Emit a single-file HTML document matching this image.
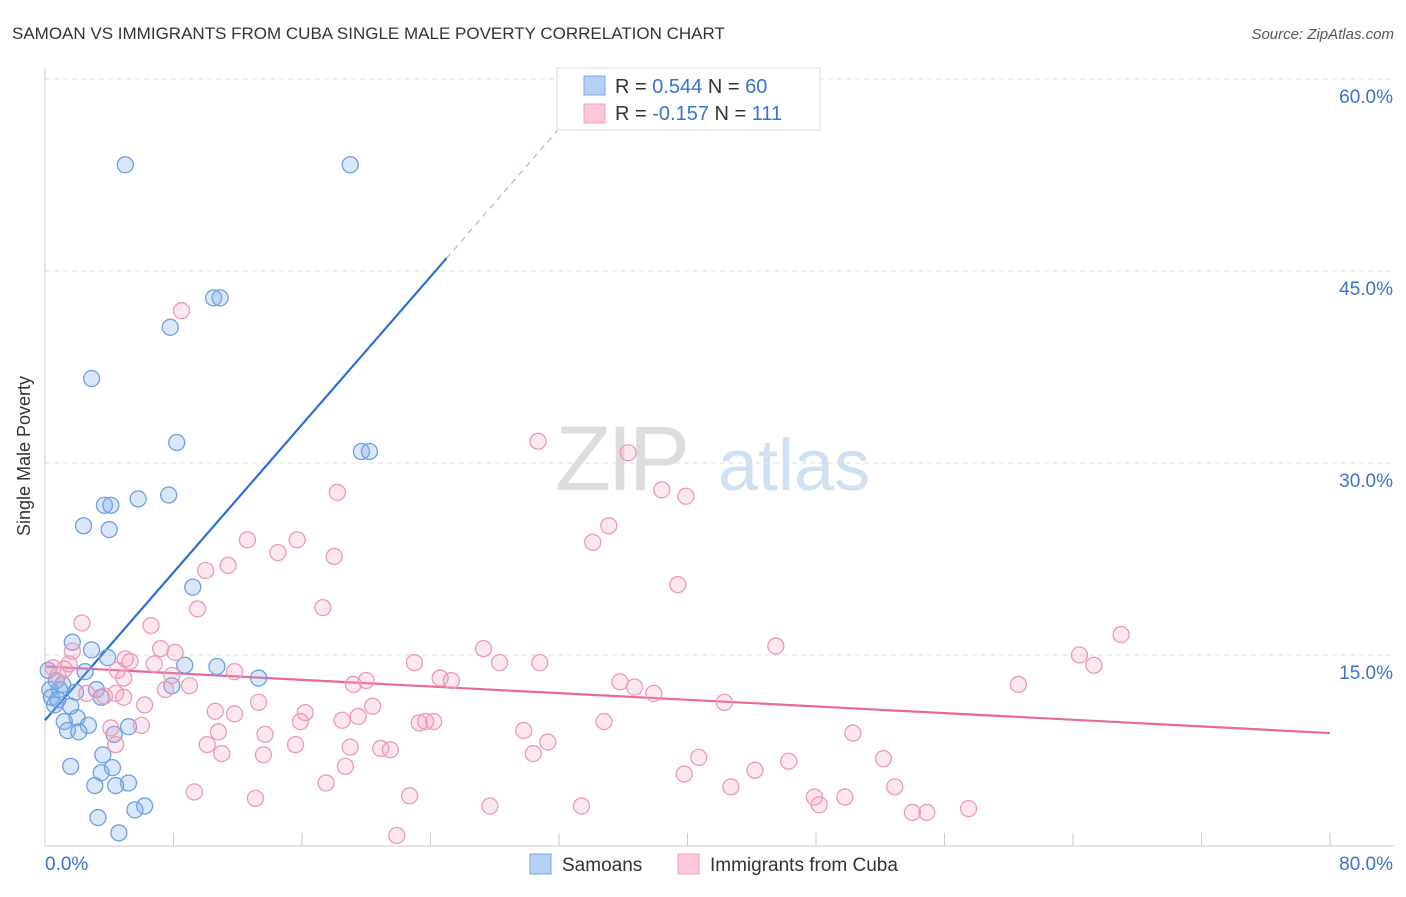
<!DOCTYPE html>
<html><head><meta charset="utf-8"><style>
body{margin:0;background:#fff;font-family:"Liberation Sans",sans-serif;}
svg text{font-family:"Liberation Sans",sans-serif;}
</style></head><body>
<svg id="chart" width="1406" height="892">
<text x="12" y="39" font-size="17" fill="#333">SAMOAN VS IMMIGRANTS FROM CUBA SINGLE MALE POVERTY CORRELATION CHART</text>
<text x="1394" y="39" font-size="15" fill="#555" font-style="italic" text-anchor="end">Source: ZipAtlas.com</text>
<text x="30" y="456" font-size="18" fill="#333" text-anchor="middle" transform="rotate(-90 30 456)">Single Male Poverty</text>
<g><text x="555" y="490" font-size="92" fill="#ddd" font-family="Liberation Serif" letter-spacing="-4">ZIP</text><text x="718" y="490" font-size="72" fill="#cfe0f3">atlas</text></g>
<g id="grid"></g><g id="axes"></g><g id="lines"></g><g id="pts"></g>
<g>
<rect x="557" y="68" width="263" height="62" fill="#fff" stroke="#ddd"/>
<rect x="584" y="76" width="21" height="19" fill="#b5d0f5" stroke="#7aa8e8"/>
<rect x="584" y="104" width="21" height="19" fill="#fcc8d8" stroke="#f0a0bb"/>
<text x="615" y="93" font-size="20" fill="#333">R = <tspan fill="#3a72d0">0.544</tspan>    N = <tspan fill="#3a72d0">60</tspan></text>
<text x="615" y="120" font-size="20" fill="#333">R = <tspan fill="#3a72d0">-0.157</tspan>   N = <tspan fill="#3a72d0">111</tspan></text>
</g>
<g>
<rect x="530" y="854" width="21" height="20" fill="#b5d0f5" stroke="#7aa8e8"/>
<text x="562" y="871" font-size="19" fill="#333">Samoans</text>
<rect x="678" y="854" width="21" height="20" fill="#fcc8d8" stroke="#f0a0bb"/>
<text x="710" y="871" font-size="19" fill="#333">Immigrants from Cuba</text>
</g>
</svg>
<script>
const yTicks=[15,30,45,60];
const xTickCount=10;
const blueX=[5.0,19.0,10.5,10.9,7.8,2.9,8.2,19.7,20.2,7.7,5.8,3.7,4.1,2.4,4.0,9.2,1.7,2.9,3.9,8.7,10.7,0.2,2.5,13.3,0.7,1.1,7.9,0.3,1.9,3.2,0.4,3.5,1.6,0.6,2.0,1.2,2.7,5.2,1.4,2.1,4.3,3.6,1.6,4.2,3.5,5.2,4.4,3.1,6.2,5.6,3.3,4.6,0.9,0.8];
const blueY=[53.3,53.3,42.9,42.9,40.6,36.6,31.6,30.9,30.9,27.5,27.2,26.7,26.7,25.1,24.8,20.3,16.0,15.4,14.8,14.2,14.1,13.8,13.7,13.2,13.0,12.7,12.6,12.3,12.1,12.3,11.7,11.7,11.0,11.1,10.1,9.8,9.5,9.4,9.1,9.0,8.8,7.2,6.3,6.2,5.8,5.0,4.8,4.8,3.2,2.9,2.3,1.1,12.3,11.5];
const pinkX=[8.5,30.7,36.3,38.4,39.9,18.2,35.1,34.1,12.6,15.7,14.5,18.0,11.4,10.0,39.4,17.3,9.5,2.3,6.6,67.0,45.5,27.3,7.2,8.1,1.7,64.4,65.3,5.0,5.3,30.8,28.3,23.0,6.8,1.5,0.5,4.5,11.8,7.9,0.8,4.9,20.0,19.2,24.6,25.3,35.8,36.7,60.6,9.0,7.5,2.6,37.9,3.7,4.9,4.4,13.3,42.3,20.4,6.2,10.6,11.8,16.2,19.5,18.5,15.9,34.8,23.7,24.2,23.3,6.0,4.1,10.8,13.7,29.8,50.3,31.3,4.4,10.1,15.6,19.0,20.9,21.5,11.0,13.6,30.4,40.7,52.2,46.3,18.7,39.8,44.2,17.5,42.7,52.9,9.3,22.7,47.9,49.8,13.1,48.2,27.7,33.4,57.5,54.0,54.9,21.9,1.2];
const pinkY=[41.9,31.7,30.8,27.9,27.4,27.7,25.1,23.8,24.0,24.0,23.0,22.7,22.0,21.6,20.5,18.7,18.6,17.5,17.3,16.6,15.7,15.5,15.5,15.2,15.3,15.0,14.2,14.7,14.5,14.4,14.4,14.4,14.3,14.3,14.0,13.8,13.7,13.4,13.4,13.2,13.0,12.7,13.2,13.0,12.9,12.5,12.7,12.6,12.3,12.0,12.0,11.8,11.7,12.0,11.3,11.3,11.0,11.1,10.6,10.4,10.5,10.2,9.9,9.8,9.8,9.8,9.8,9.7,9.5,9.3,9.0,8.8,9.1,8.9,8.2,8.0,8.0,8.0,7.8,7.7,7.6,7.3,7.2,7.3,7.0,6.9,6.7,6.3,5.7,6.0,5.0,4.7,4.7,4.3,4.0,3.9,3.9,3.8,3.3,3.2,3.2,3.0,2.7,2.7,0.9,13.9];
const blueTrendX=[0,25.0,33.3];
const blueTrendY=[9.9,46.0,58.0];
const pinkTrendX=[0,80];
const pinkTrendY=[14.1,8.9];
const NS='http://www.w3.org/2000/svg';
const sx=v=>45+v/80*1285, sy=v=>847-v/60*768;
function mk(tag,attrs,parent){const e=document.createElementNS(NS,tag);for(const k in attrs)e.setAttribute(k,attrs[k]);document.getElementById(parent).appendChild(e);return e;}
yTicks.forEach(t=>{
 const l=mk('line',{x1:45,x2:1394,y1:sy(t),y2:sy(t),stroke:'#ddd','stroke-dasharray':'5,4'},'grid');
 
 
 const tx=mk('text',{x:1393,y:sy(t)+24,'font-size':19,fill:'#3a72d0','text-anchor':'end'},'grid');
 tx.textContent=t.toFixed(1)+'%';
 
 
});
const ax=mk('line',{x1:45,x2:1394,y1:846,y2:846,stroke:'#ccc'},'axes');


const ay=mk('line',{x1:45,x2:45,y1:68,y2:846,stroke:'#ccc'},'axes');


for(let i=1;i<=xTickCount;i++){
 const t=mk('line',{x1:sx(i*8),x2:sx(i*8),y1:833,y2:846,stroke:'#ccc'},'axes');
 
 
}
[[0,'0.0%','start',45],[80,'80.0%','end',1393]].forEach(a=>{
 const t=mk('text',{x:a[3],y:870,'font-size':19,fill:'#3a72d0','text-anchor':a[2]},'axes');
 t.textContent=a[1];
 
 
});
blueX.forEach((x,i)=>{
 const c=mk('circle',{cx:sx(x),cy:sy(blueY[i]),r:8,fill:'rgba(130,175,235,0.3)',stroke:'#6c9fe2','stroke-width':1.3},'pts');
 
 
});
pinkX.forEach((x,i)=>{
 const c=mk('circle',{cx:sx(x),cy:sy(pinkY[i]),r:8,fill:'rgba(245,160,190,0.25)',stroke:'#eb9ab8','stroke-width':1.3},'pts');
 
 
});
const bl=mk('line',{x1:sx(blueTrendX[0]),y1:sy(blueTrendY[0]),x2:sx(blueTrendX[1]),y2:sy(blueTrendY[1]),stroke:'#2a6fd8','stroke-width':2.2},'lines');


const bd=mk('line',{x1:sx(blueTrendX[1]),y1:sy(blueTrendY[1]),x2:sx(blueTrendX[2]),y2:sy(blueTrendY[2]),stroke:'#9bbbe8','stroke-width':1.2,'stroke-dasharray':'6,5'},'lines');


const pl=mk('line',{x1:sx(pinkTrendX[0]),y1:sy(pinkTrendY[0]),x2:sx(pinkTrendX[1]),y2:sy(pinkTrendY[1]),stroke:'#e8689a','stroke-width':2.2},'lines');


</script>
</body></html>
